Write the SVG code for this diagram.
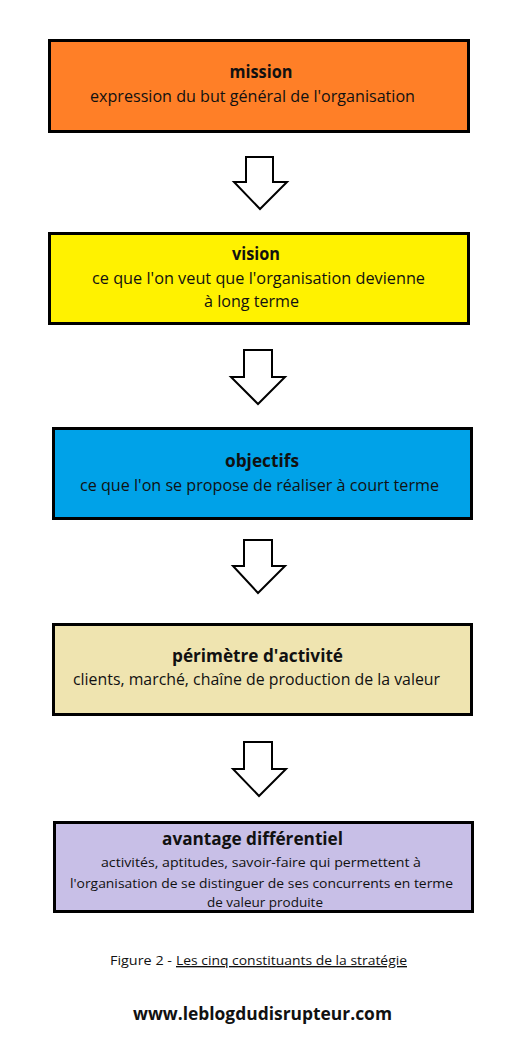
<svg xmlns="http://www.w3.org/2000/svg" width="528" height="1055" viewBox="0 0 528 1055">
<style>
.box{stroke:#000;stroke-width:3}
.arrow{fill:#fff;stroke:#000;stroke-width:2;stroke-linejoin:miter}
text{font-family:"Open Sans","Noto Sans","Liberation Sans",sans-serif;fill:#111;text-anchor:middle}
.t{font-weight:bold;font-size:17px}
.s{font-size:16px}
.xs{font-size:13.5px}
</style>
<rect width="528" height="1055" fill="#fff"/>
<g id="mission">
<rect class="box" x="49.5" y="40.5" width="419" height="91" fill="#FF7F27"/>
<text class="t" x="261" y="78" textLength="63" lengthAdjust="spacingAndGlyphs">mission</text>
<text class="s" x="252.5" y="102" textLength="325" lengthAdjust="spacingAndGlyphs">expression du but général de l'organisation</text>
</g>
<g id="vision">
<rect class="box" x="49.5" y="233.5" width="419" height="90" fill="#FFF200"/>
<text class="t" x="256" y="260" textLength="48" lengthAdjust="spacingAndGlyphs">vision</text>
<text class="s" x="258.5" y="284" textLength="333" lengthAdjust="spacingAndGlyphs">ce que l'on veut que l'organisation devienne</text>
<text class="s" x="251.5" y="307" textLength="95" lengthAdjust="spacingAndGlyphs">à long terme</text>
</g>
<g id="objectifs">
<rect class="box" x="53.5" y="428.5" width="418" height="90" fill="#00A2E8"/>
<text class="t" x="262" y="467" textLength="74" lengthAdjust="spacingAndGlyphs">objectifs</text>
<text class="s" x="259.5" y="491" textLength="359" lengthAdjust="spacingAndGlyphs">ce que l'on se propose de réaliser à court terme</text>
</g>
<g id="perimetre">
<rect class="box" x="53.5" y="624.5" width="418" height="90" fill="#EFE4B0"/>
<text class="t" x="257.5" y="662" textLength="171" lengthAdjust="spacingAndGlyphs">périmètre d'activité</text>
<text class="s" x="256.5" y="685" textLength="367" lengthAdjust="spacingAndGlyphs">clients, marché, chaîne de production de la valeur</text>
</g>
<g id="avantage">
<rect class="box" x="54.5" y="822.5" width="418" height="89" fill="#C8BFE7"/>
<text class="t" x="252.5" y="845" style="font-size:18.5px" textLength="181" lengthAdjust="spacingAndGlyphs">avantage différentiel</text>
<text class="xs" x="261" y="867" textLength="320" lengthAdjust="spacingAndGlyphs">activités, aptitudes, savoir-faire qui permettent à</text>
<text class="xs" x="261.5" y="888" textLength="383" lengthAdjust="spacingAndGlyphs">l'organisation de se distinguer de ses concurrents en terme</text>
<text class="xs" x="265" y="907" textLength="116" lengthAdjust="spacingAndGlyphs">de valeur produite</text>
</g>
<g id="connectors">
<polygon class="arrow" points="246,157 273,157 273,182 287,182 260,209 234,182 246,182"/>
<polygon class="arrow" points="244,350 272,350 272,377 285,377 258,404 231,377 244,377"/>
<polygon class="arrow" points="244,540 272,540 272,566 285,566 258,593 233,566 244,566"/>
<polygon class="arrow" points="244,742 272,742 272,769 286,769 259,796 233,769 244,769"/>
</g>
<g id="caption">
<text class="xs" x="110" y="965" style="text-anchor:start" textLength="62" lengthAdjust="spacingAndGlyphs">Figure 2 -</text>
<text class="xs" x="176" y="965" style="text-anchor:start;text-decoration:underline" textLength="231" lengthAdjust="spacingAndGlyphs">Les cinq constituants de la stratégie</text>
<text class="t" x="262.5" y="1020" style="font-size:18px" textLength="259" lengthAdjust="spacingAndGlyphs">www.leblogdudisrupteur.com</text>
</g>
</svg>
